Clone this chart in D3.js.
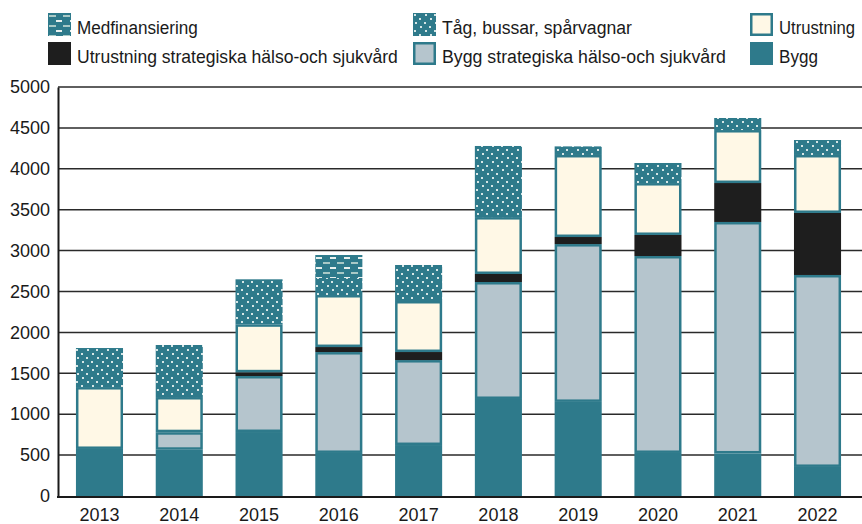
<!DOCTYPE html>
<html lang="sv">
<head>
<meta charset="UTF-8">
<title>Investeringar 2013-2022</title>
<script src="https://d3js.org/d3.v7.min.js"></script>
<style>
    body { margin: 0; background: #fff; }
    svg { display: block; }
    .tick-label { font-family: "Liberation Sans", Arial, sans-serif; font-size: 18px; fill: #1a1a1a; }
    .legend-label { font-family: "Liberation Sans", Arial, sans-serif; font-size: 19px; fill: #1a1a1a; }
</style>
</head>
<body>
<svg id="chart" width="862" height="524"></svg>
<script>
// data (mkr per år)
const years = ["2013", "2014", "2015", "2016", "2017", "2018", "2019", "2020", "2021", "2022"];
const bygg        = [575, 565, 782, 526, 623, 1186, 1150, 526, 520, 355];
const byggStrat   = [0, 215, 685, 1234, 1039, 1430, 1930, 2408, 2830, 2347];
const utrStrat    = [0, 0, 45, 61, 98, 98, 86, 257, 476, 758];
const utrustning  = [757, 430, 587, 636, 624, 696, 1003, 635, 648, 709];
const tag         = [477, 636, 550, 208, 440, 869, 105, 245, 147, 183];
const medfin      = [0, 0, 0, 281, 0, 0, 0, 0, 0, 0];
const yTicks = [0, 500, 1000, 1500, 2000, 2500, 3000, 3500, 4000, 4500, 5000];

const teal = "#2e7a8b";

const series = [
    { key: "bygg", name: "Bygg", values: bygg, fill: teal, outline: false },
    { key: "byggStrat", name: "Bygg strategiska hälso-och sjukvård", values: byggStrat, fill: "#b5c5cd", outline: true },
    { key: "utrStrat", name: "Utrustning strategiska hälso-och sjukvård", values: utrStrat, fill: "#1e1e1e", outline: false },
    { key: "utrustning", name: "Utrustning", values: utrustning, fill: "#fff8e6", outline: true },
    { key: "tag", name: "Tåg, bussar, spårvagnar", values: tag, fill: "url(#dots)", outline: false },
    { key: "medfin", name: "Medfinansiering", values: medfin, fill: "url(#dashes)", outline: false }
];

// textbredd i förklaringen (smalt typsnitt i originalet)
const legendWidths = { medfin: 121, tag: 190, utrustning: 76, utrStrat: 321, byggStrat: 284, bygg: 39 };

const svg = d3.select("#chart");

// mönster
const defs = svg.append("defs");
const dots = defs.append("pattern").attr("id", "dots")
    .attr("patternUnits", "userSpaceOnUse").attr("width", 20).attr("height", 16);
dots.append("rect").attr("width", 20).attr("height", 16).attr("fill", teal);
[[1, 1], [6, 5], [11, 9], [16, 13], [12, 1], [17, 5], [2, 9], [7, 13]].forEach(p => {
    dots.append("rect").attr("x", p[0]).attr("y", p[1]).attr("width", 2).attr("height", 2).attr("fill", "#d6e6e6");
});
const dashes = defs.append("pattern").attr("id", "dashes")
    .attr("patternUnits", "userSpaceOnUse").attr("width", 14).attr("height", 10);
dashes.append("rect").attr("width", 14).attr("height", 10).attr("fill", teal);
dashes.append("rect").attr("x", 1).attr("y", 2).attr("width", 7).attr("height", 2).attr("fill", "#a9c9c6");
dashes.append("rect").attr("x", 8).attr("y", 7).attr("width", 6).attr("height", 2).attr("fill", "#e8f0ee");

const x = d3.scaleBand().domain(years).range([58, 859]).paddingInner(0.41).paddingOuter(0.225);
const y = d3.scaleLinear().domain([0, 5000]).range([496, 87]);

// rutnät
svg.append("g").selectAll("line").data(yTicks.filter(d => d > 0)).join("line")
    .attr("x1", 58).attr("x2", 862)
    .attr("y1", d => y(d)).attr("y2", d => y(d))
    .attr("stroke", "#2a2a2a").attr("stroke-width", 1.5);

// y-axel
const yAxis = svg.append("g").attr("transform", "translate(58,0)")
    .call(d3.axisLeft(y).tickValues(yTicks).tickFormat(d3.format("d")).tickSize(0).tickPadding(8));
yAxis.select(".domain").attr("stroke", "#1a1a1a").attr("stroke-width", 2);
yAxis.selectAll("text").attr("class", "tick-label").attr("font-family", null).attr("font-size", null);

// staplar
const stack = d3.stack().keys(series.map(s => s.key))
    (years.map((yr, i) => {
        const row = { year: yr };
        series.forEach(s => row[s.key] = s.values[i]);
        return row;
    }));

stack.forEach((layer, li) => {
    const s = series[li];
    const g = svg.append("g");
    const segs = layer.filter(d => d[1] - d[0] > 0);
    g.selectAll("rect").data(segs).join("rect")
        .attr("x", d => x(d.data.year))
        .attr("y", d => y(d[1]))
        .attr("width", x.bandwidth())
        .attr("height", d => y(d[0]) - y(d[1]))
        .attr("fill", s.outline ? teal : s.fill);
    if (s.outline) {
        g.selectAll("rect.inner").data(segs).join("rect")
            .attr("class", "inner")
            .attr("x", d => x(d.data.year) + 2.5)
            .attr("y", d => y(d[1]) + 2.5)
            .attr("width", x.bandwidth() - 5)
            .attr("height", d => Math.max(0, y(d[0]) - y(d[1]) - 5))
            .attr("fill", s.fill);
    }
});

// x-axel
const xAxis = svg.append("g").attr("transform", "translate(0,497)")
    .call(d3.axisBottom(x).tickSize(0).tickPadding(11));
xAxis.select(".domain").remove();
xAxis.selectAll("text").attr("class", "tick-label").attr("font-family", null).attr("font-size", null);
svg.append("line").attr("x1", 57).attr("x2", 862).attr("y1", 497).attr("y2", 497)
    .attr("stroke", "#1a1a1a").attr("stroke-width", 2);

// förklaring
const legendOrder = ["medfin", "tag", "utrustning", "utrStrat", "byggStrat", "bygg"];
const colX = [48, 413, 750];
const rowY = [13, 42];
legendOrder.forEach((k, i) => {
    const s = series.find(d => d.key === k);
    const lx = colX[i % 3], ly = rowY[Math.floor(i / 3)];
    const item = svg.append("g").attr("transform", `translate(${lx},${ly})`);
    if (s.outline) {
        item.append("rect").attr("width", 23).attr("height", 23).attr("fill", teal);
        item.append("rect").attr("x", 2.5).attr("y", 2.5).attr("width", 18).attr("height", 18).attr("fill", s.fill);
    } else {
        item.append("rect").attr("width", 23).attr("height", 23).attr("fill", s.fill);
    }
    // smal text: skala horisontellt till originalets bredd
    const t = item.append("g").attr("transform", "translate(29,21)")
        .append("text").attr("class", "legend-label").text(s.name);
    const natural = t.node().getComputedTextLength();
    t.attr("transform", `scale(${legendWidths[k] / natural},1)`);
});
</script>
</body>
</html>
